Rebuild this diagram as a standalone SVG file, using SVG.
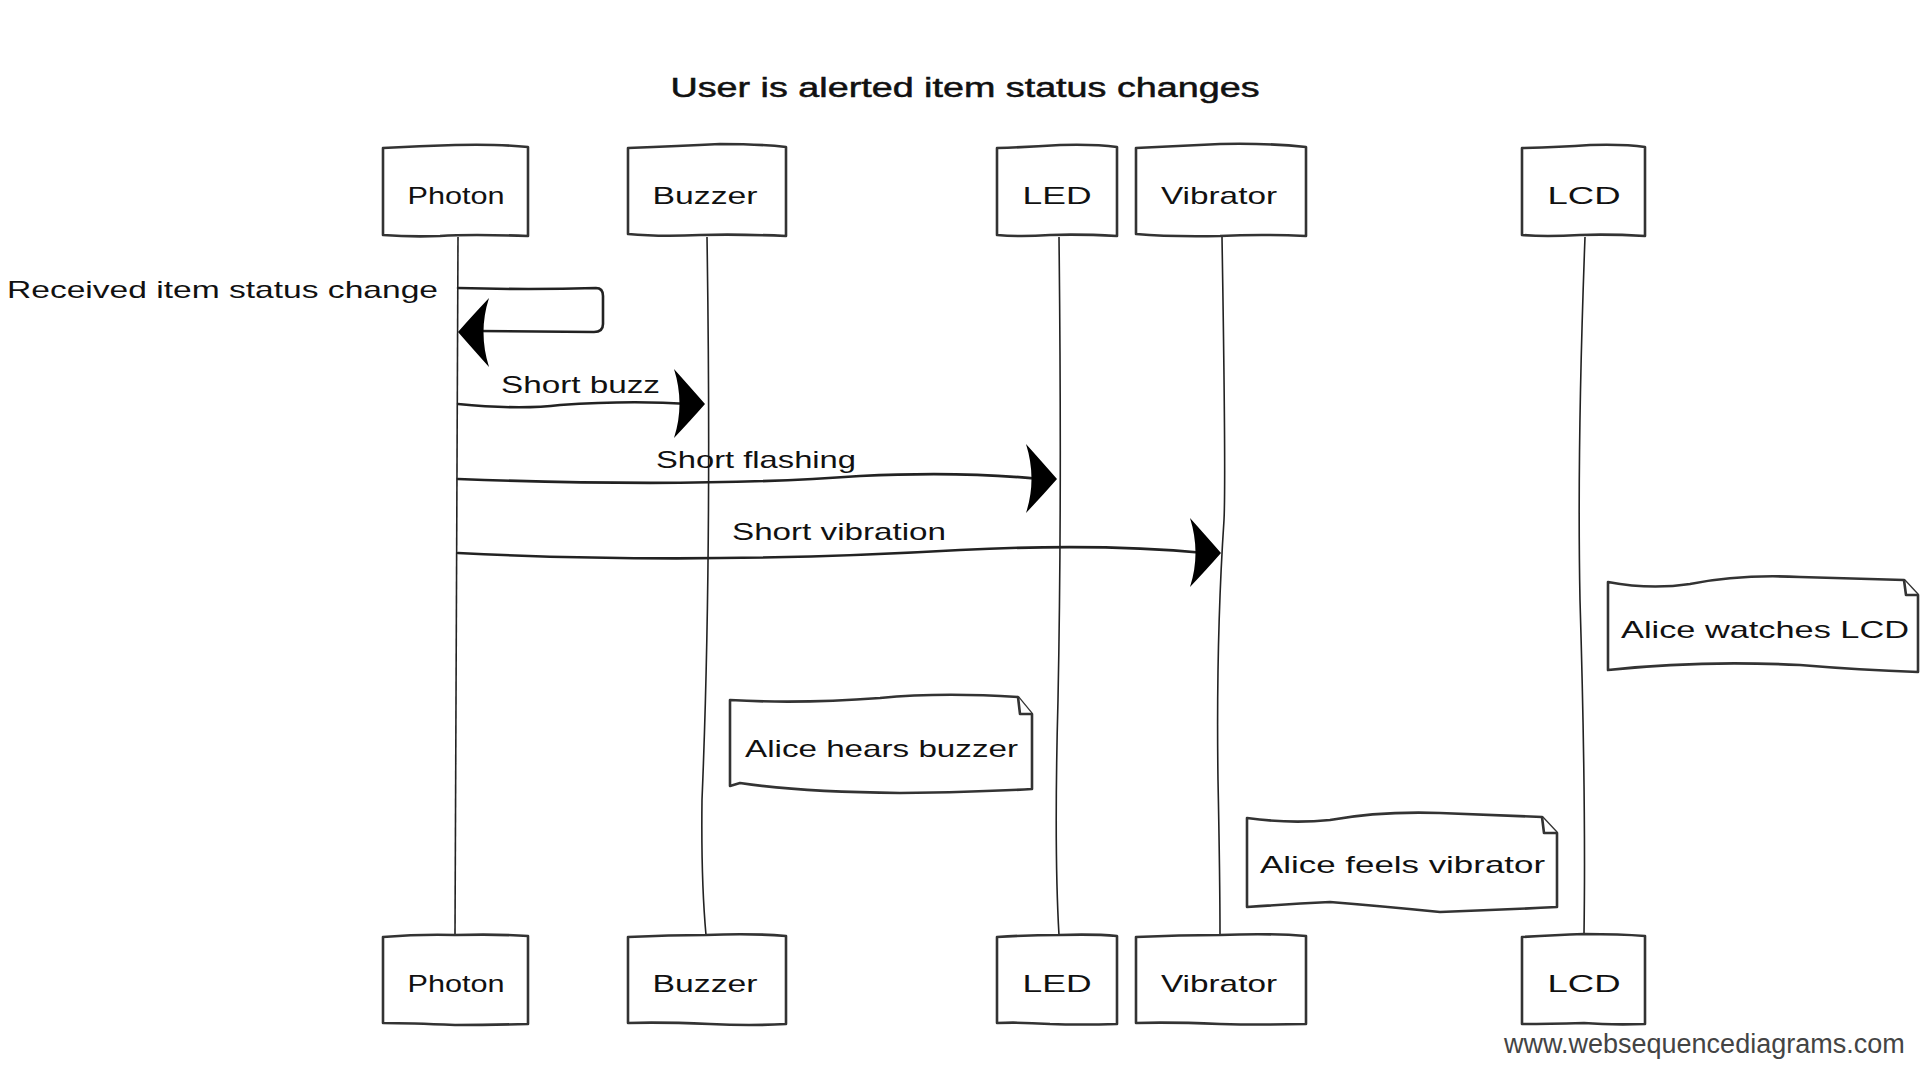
<svg xmlns="http://www.w3.org/2000/svg" width="1922" height="1078" viewBox="0 0 1922 1078">
<style>
.bg{fill:#fff}
.box{fill:#fff;stroke:#333;stroke-width:2.6;stroke-linejoin:round}
.life{fill:none;stroke:#222;stroke-width:1.6}
.msg{fill:none;stroke:#222;stroke-width:2.6;stroke-linecap:round}
.ah{fill:#000}
.hand{font-family:"Liberation Sans","DejaVu Sans",sans-serif;font-size:24px;fill:#111}
.title{font-family:"Liberation Sans","DejaVu Sans",sans-serif;font-size:27px;fill:#111;stroke:#111;stroke-width:0.5}
.foot{font-family:"Liberation Sans",Arial,sans-serif;font-size:27px;fill:#444}
</style>
<defs>
<path id="ah" d="M0 0 Q-14 -16 -31 -35 Q-20 0 -31 34 Q-14 16 0 0 Z"/>
</defs>
<rect class="bg" x="0" y="0" width="1922" height="1078"/>
<text class="title" x="965" y="97" text-anchor="middle" textLength="589" lengthAdjust="spacingAndGlyphs">User is alerted item status changes</text>

<g id="lifelines">
<path class="life" d="M458 237 Q457 600 455 935"/>
<path class="life" d="M707 237 Q712 560 702 800 Q701 880 706 935"/>
<path class="life" d="M1059 237 Q1062 500 1058 700 Q1054 850 1059 935"/>
<path class="life" d="M1222 237 Q1226 480 1224 520 Q1216 640 1218 780 Q1220 880 1220 935"/>
<path class="life" d="M1585 237 Q1577 450 1580 600 Q1586 800 1584 935"/>
</g>

<g id="p-photon-top"><path class="box" d="M383 148 Q420 146 455 145 Q500 144 528 147 L528 236 Q470 234 440 236 Q410 237 383 235 Z"/><text class="hand" x="456" y="204" text-anchor="middle" textLength="97" lengthAdjust="spacingAndGlyphs">Photon</text></g>
<g id="p-buzzer-top"><path class="box" d="M628 148 Q680 146 720 144 Q760 144 786 147 L786 236 Q740 234 700 235 Q660 237 628 234 Z"/><text class="hand" x="705" y="204" text-anchor="middle" textLength="105" lengthAdjust="spacingAndGlyphs">Buzzer</text></g>
<g id="p-led-top"><path class="box" d="M997 148 Q1030 147 1060 145 Q1095 144 1117 147 L1117 236 Q1080 234 1050 235 Q1020 237 997 235 Z"/><text class="hand" x="1057" y="204" text-anchor="middle" textLength="69" lengthAdjust="spacingAndGlyphs">LED</text></g>
<g id="p-vibrator-top"><path class="box" d="M1136 148 Q1180 146 1220 144 Q1270 143 1306 147 L1306 236 Q1260 234 1220 236 Q1170 237 1136 234 Z"/><text class="hand" x="1219" y="204" text-anchor="middle" textLength="116" lengthAdjust="spacingAndGlyphs">Vibrator</text></g>
<g id="p-lcd-top"><path class="box" d="M1522 148 Q1560 147 1590 145 Q1625 144 1645 147 L1645 236 Q1610 234 1580 235 Q1545 237 1522 235 Z"/><text class="hand" x="1584" y="204" text-anchor="middle" textLength="73" lengthAdjust="spacingAndGlyphs">LCD</text></g>

<g id="p-photon-bottom"><path class="box" d="M383 937 Q420 934 455 935 Q500 934 528 936 L528 1024 Q490 1025 455 1025 Q410 1023 383 1023 Z"/><text class="hand" x="456" y="992" text-anchor="middle" textLength="97" lengthAdjust="spacingAndGlyphs">Photon</text></g>
<g id="p-buzzer-bottom"><path class="box" d="M628 937 Q670 935 706 935 Q750 933 786 936 L786 1024 Q750 1026 710 1024 Q660 1022 628 1023 Z"/><text class="hand" x="705" y="992" text-anchor="middle" textLength="105" lengthAdjust="spacingAndGlyphs">Buzzer</text></g>
<g id="p-led-bottom"><path class="box" d="M997 937 Q1030 935 1059 935 Q1095 934 1117 936 L1117 1024 Q1080 1025 1050 1024 Q1020 1022 997 1023 Z"/><text class="hand" x="1057" y="992" text-anchor="middle" textLength="69" lengthAdjust="spacingAndGlyphs">LED</text></g>
<g id="p-vibrator-bottom"><path class="box" d="M1136 937 Q1180 935 1220 935 Q1270 933 1306 936 L1306 1024 Q1260 1025 1220 1024 Q1170 1022 1136 1023 Z"/><text class="hand" x="1219" y="992" text-anchor="middle" textLength="116" lengthAdjust="spacingAndGlyphs">Vibrator</text></g>
<g id="p-lcd-bottom"><path class="box" d="M1522 937 Q1555 935 1584 934 Q1620 934 1645 936 L1645 1024 Q1610 1025 1584 1023 Q1545 1024 1522 1024 Z"/><text class="hand" x="1584" y="992" text-anchor="middle" textLength="73" lengthAdjust="spacingAndGlyphs">LCD</text></g>

<g id="connectors">
<path class="msg" d="M458 288 Q530 290 596 288 Q603 288 603 296 L603 324 Q603 332 594 332 L478 331"/>
<use href="#ah" class="ah" transform="translate(458 332) rotate(180)"/>
<text class="hand" x="7" y="298" textLength="431" lengthAdjust="spacingAndGlyphs">Received item status change</text>

<path class="msg" d="M458 404 Q520 410 560 405 Q630 400 690 404"/>
<use href="#ah" class="ah" transform="translate(705 404)"/>
<text class="hand" x="501" y="393" textLength="159" lengthAdjust="spacingAndGlyphs">Short buzz</text>

<path class="msg" d="M458 479 Q700 488 860 476 Q960 471 1040 479"/>
<use href="#ah" class="ah" transform="translate(1057 479)"/>
<text class="hand" x="656" y="468" textLength="200" lengthAdjust="spacingAndGlyphs">Short flashing</text>

<path class="msg" d="M458 553 Q700 565 960 550 Q1100 543 1205 553"/>
<use href="#ah" class="ah" transform="translate(1221 553)"/>
<text class="hand" x="732" y="540" textLength="214" lengthAdjust="spacingAndGlyphs">Short vibration</text>
</g>

<g id="note-lcd">
<path class="box" d="M1608 582 Q1650 590 1690 584 Q1740 574 1800 577 L1904 580 L1918 595 L1918 672 Q1860 670 1800 665 Q1700 660 1608 670 Z"/>
<path class="box" fill="none" d="M1904 580 L1906 595 L1918 595"/>
<text class="hand" x="1621" y="638" textLength="288" lengthAdjust="spacingAndGlyphs">Alice watches LCD</text>
</g>
<g id="note-buzzer">
<path class="box" d="M730 700 Q800 704 880 698 Q940 692 1018 697 L1032 714 L1032 789 Q980 792 900 793 Q800 792 740 783 L730 786 Z"/>
<path class="box" fill="none" d="M1018 697 L1020 714 L1032 714"/>
<text class="hand" x="745" y="757" textLength="273" lengthAdjust="spacingAndGlyphs">Alice hears buzzer</text>
</g>
<g id="note-vibrator">
<path class="box" d="M1247 818 Q1290 824 1330 820 Q1380 811 1440 813 L1542 817 L1557 833 L1557 907 Q1500 910 1440 912 Q1380 906 1330 902 Q1290 904 1247 907 Z"/>
<path class="box" fill="none" d="M1542 817 L1544 833 L1557 833"/>
<text class="hand" x="1260" y="873" textLength="285" lengthAdjust="spacingAndGlyphs">Alice feels vibrator</text>
</g>

<text class="foot" x="1504" y="1053">www.websequencediagrams.com</text>
</svg>
